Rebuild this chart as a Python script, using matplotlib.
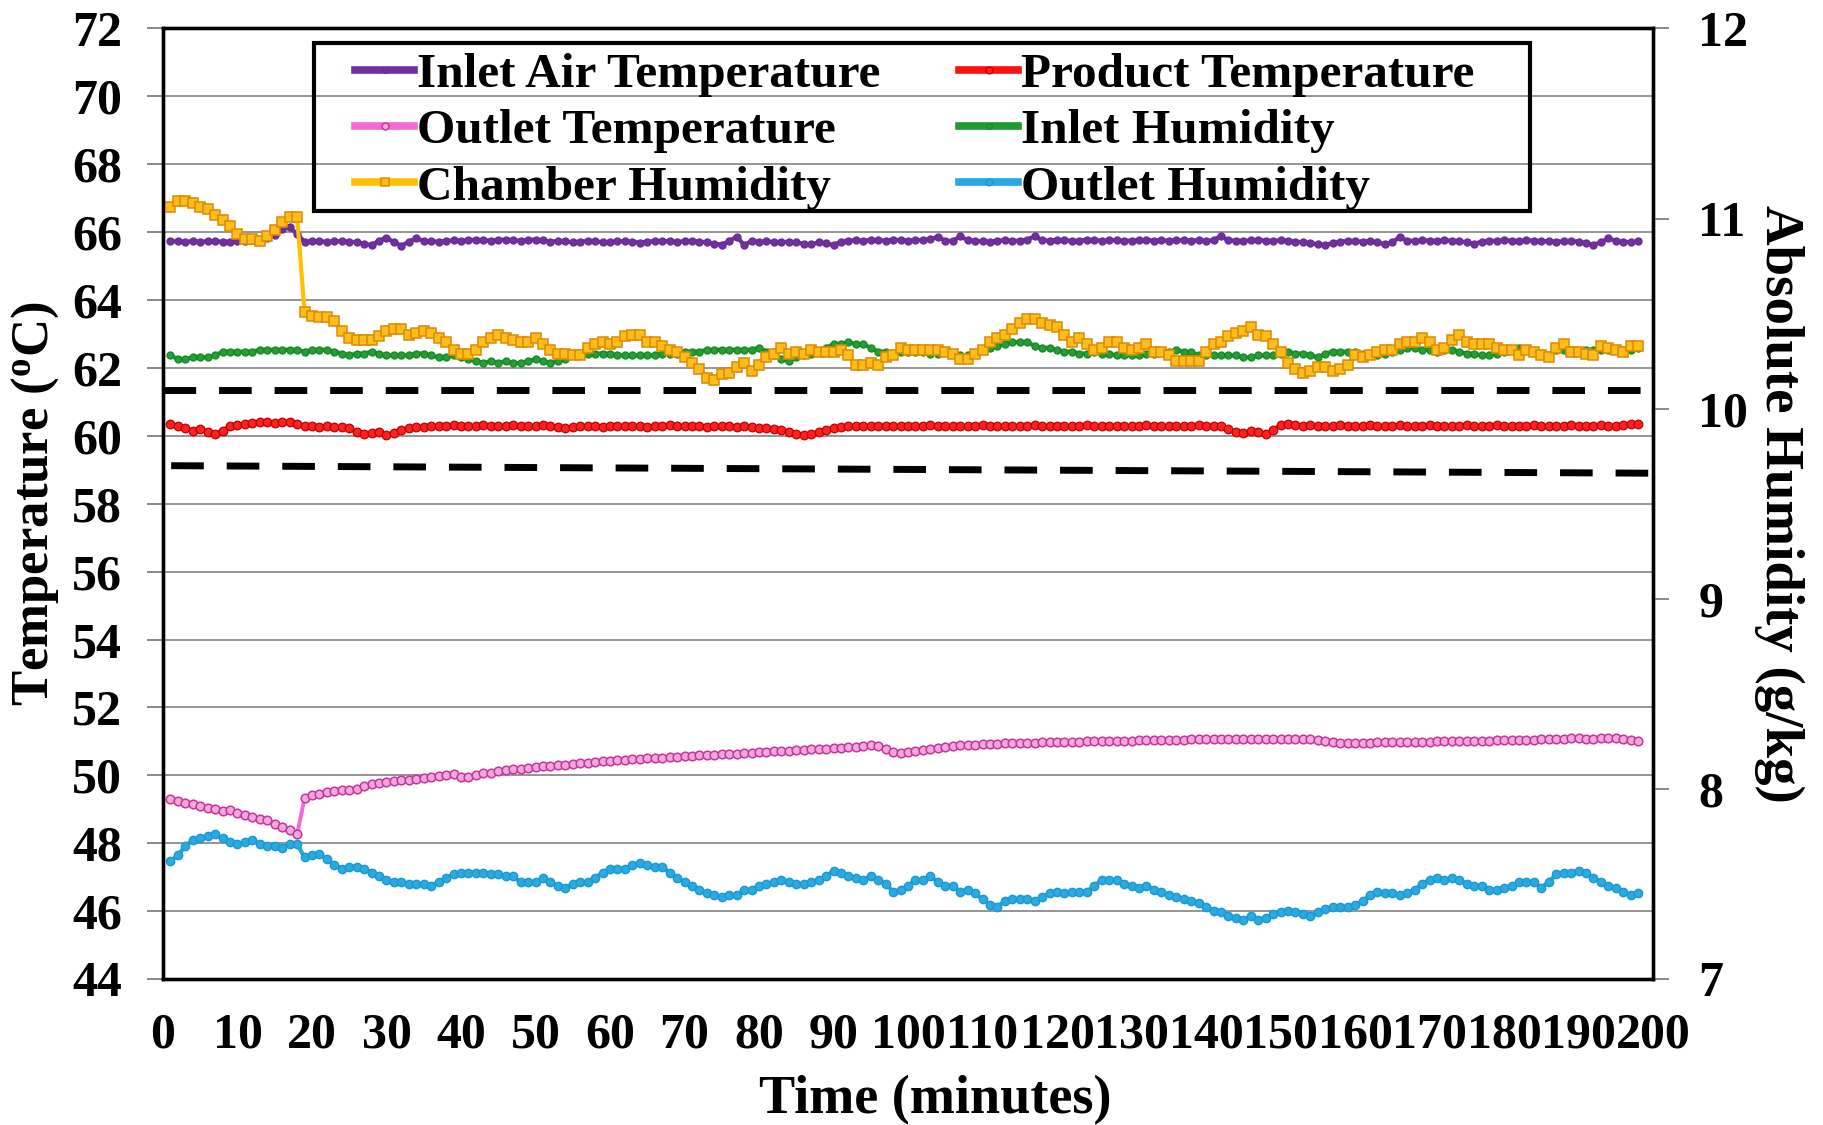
import numpy as np
import matplotlib
matplotlib.use("Agg")
import matplotlib.pyplot as plt
from matplotlib.lines import Line2D
from matplotlib.patches import Rectangle

plt.rcParams['font.family'] = ['Liberation Serif', 'DejaVu Serif']
plt.rcParams['font.weight'] = 'bold'
plt.rcParams['mathtext.fontset'] = 'custom'
plt.rcParams['mathtext.rm'] = 'Liberation Serif:bold'
plt.rcParams['mathtext.it'] = 'Liberation Serif:bold'
plt.rcParams['mathtext.bf'] = 'Liberation Serif:bold'

# ---- data: one reading per minute --------------------------------------
minutes = np.arange(1, 199)

inlet_air_temp = [
    65.73, 65.73, 65.72, 65.73, 65.72, 65.73, 65.73, 65.72, 65.72, 65.73,
    65.74, 65.76, 65.78, 65.83, 65.92, 66.08, 66.14, 65.95, 65.72, 65.74,
    65.73, 65.72, 65.73, 65.74, 65.72, 65.70, 65.66, 65.62, 65.75, 65.84,
    65.70, 65.60, 65.72, 65.82, 65.74, 65.73, 65.72, 65.74, 65.76, 65.74,
    65.76, 65.78, 65.76, 65.75, 65.77, 65.78, 65.76, 65.75, 65.77, 65.78,
    65.76, 65.72, 65.74, 65.73, 65.70, 65.72, 65.74, 65.73, 65.70, 65.71,
    65.73, 65.74, 65.72, 65.69, 65.72, 65.74, 65.73, 65.74, 65.72, 65.73,
    65.74, 65.72, 65.70, 65.66, 65.63, 65.74, 65.87, 65.62, 65.74, 65.72,
    65.73, 65.71, 65.70, 65.72, 65.70, 65.66, 65.64, 65.70, 65.67, 65.62,
    65.72, 65.75, 65.76, 65.74, 65.77, 65.76, 65.75, 65.78, 65.76, 65.75,
    65.77, 65.76, 65.80, 65.86, 65.75, 65.74, 65.88, 65.76, 65.74, 65.73,
    65.72, 65.75, 65.76, 65.74, 65.75, 65.78, 65.88, 65.76, 65.75, 65.77,
    65.76, 65.74, 65.75, 65.78, 65.76, 65.75, 65.76, 65.77, 65.74, 65.75,
    65.76, 65.77, 65.75, 65.76, 65.75, 65.77, 65.76, 65.75, 65.76, 65.74,
    65.77, 65.88, 65.76, 65.75, 65.74, 65.76, 65.77, 65.75, 65.74, 65.76,
    65.75, 65.72, 65.70, 65.68, 65.64, 65.62, 65.68, 65.72, 65.74, 65.73,
    65.72, 65.74, 65.70, 65.64, 65.70, 65.86, 65.75, 65.74, 65.76, 65.75,
    65.74, 65.76, 65.75, 65.73, 65.70, 65.66, 65.72, 65.75, 65.74, 65.76,
    65.75, 65.74, 65.76, 65.75, 65.73, 65.74, 65.72, 65.73, 65.74, 65.72,
    65.68, 65.63, 65.70, 65.82, 65.74, 65.72, 65.70, 65.73,
]

product_temp = [
    60.35, 60.30, 60.22, 60.15, 60.20, 60.12, 60.05, 60.15, 60.30, 60.32,
    60.35, 60.38, 60.40, 60.42, 60.38, 60.40, 60.42, 60.35, 60.30, 60.28,
    60.26, 60.28, 60.26, 60.25, 60.22, 60.10, 60.05, 60.08, 60.12, 60.02,
    60.08, 60.18, 60.22, 60.25, 60.26, 60.28, 60.30, 60.30, 60.32, 60.30,
    60.28, 60.30, 60.32, 60.30, 60.28, 60.30, 60.32, 60.30, 60.28, 60.30,
    60.32, 60.30, 60.26, 60.24, 60.26, 60.28, 60.30, 60.28, 60.26, 60.28,
    60.30, 60.28, 60.30, 60.28, 60.26, 60.28, 60.30, 60.32, 60.30, 60.28,
    60.30, 60.28, 60.26, 60.28, 60.30, 60.28, 60.26, 60.28, 60.26, 60.24,
    60.22, 60.20, 60.16, 60.10, 60.05, 60.02, 60.06, 60.12, 60.18, 60.22,
    60.26, 60.28, 60.30, 60.30, 60.28, 60.30, 60.30, 60.28, 60.30, 60.30,
    60.28, 60.30, 60.32, 60.30, 60.28, 60.30, 60.30, 60.28, 60.30, 60.32,
    60.30, 60.28, 60.30, 60.30, 60.28, 60.30, 60.32, 60.30, 60.28, 60.30,
    60.30, 60.28, 60.30, 60.32, 60.30, 60.28, 60.30, 60.30, 60.28, 60.30,
    60.30, 60.32, 60.30, 60.28, 60.30, 60.30, 60.28, 60.30, 60.32, 60.30,
    60.30, 60.28, 60.20, 60.12, 60.08, 60.15, 60.10, 60.05, 60.18, 60.32,
    60.34, 60.32, 60.30, 60.32, 60.30, 60.28, 60.30, 60.32, 60.30, 60.28,
    60.30, 60.32, 60.30, 60.28, 60.30, 60.32, 60.30, 60.28, 60.30, 60.32,
    60.30, 60.28, 60.30, 60.30, 60.32, 60.30, 60.28, 60.30, 60.32, 60.30,
    60.30, 60.28, 60.30, 60.32, 60.30, 60.28, 60.30, 60.30, 60.32, 60.30,
    60.28, 60.30, 60.32, 60.30, 60.30, 60.32, 60.34, 60.36,
]

outlet_temp = [
    49.29, 49.25, 49.19, 49.14, 49.10, 49.05, 49.00, 48.95, 48.97, 48.90,
    48.84, 48.78, 48.72, 48.67, 48.57, 48.47, 48.39, 48.26, 49.32, 49.41,
    49.46, 49.51, 49.54, 49.58, 49.58, 49.61, 49.68, 49.74, 49.78, 49.80,
    49.83, 49.85, 49.87, 49.89, 49.92, 49.95, 49.98, 50.02, 50.05, 49.95,
    49.96, 50.02, 50.06, 50.08, 50.12, 50.16, 50.18, 50.20, 50.22, 50.24,
    50.26, 50.28, 50.30, 50.31, 50.33, 50.35, 50.37, 50.39, 50.41, 50.43,
    50.44, 50.46, 50.48, 50.49, 50.50, 50.51, 50.52, 50.54, 50.55, 50.56,
    50.58, 50.59, 50.60, 50.61, 50.62, 50.63, 50.64, 50.65, 50.66, 50.68,
    50.70, 50.71, 50.72, 50.73, 50.74, 50.75, 50.76, 50.77, 50.78, 50.79,
    50.80, 50.82, 50.84, 50.86, 50.89, 50.87, 50.78, 50.70, 50.66, 50.68,
    50.72, 50.74, 50.77, 50.79, 50.82, 50.85, 50.88, 50.90, 50.90, 50.91,
    50.92, 50.93, 50.94, 50.95, 50.95, 50.96, 50.96, 50.97, 50.97, 50.98,
    50.98, 50.99, 50.99, 51.00, 51.00, 51.01, 51.01, 51.02, 51.02, 51.02,
    51.03, 51.03, 51.03, 51.04, 51.04, 51.05, 51.05, 51.06, 51.06, 51.07,
    51.07, 51.07, 51.08, 51.08, 51.08, 51.08, 51.08, 51.07, 51.07, 51.07,
    51.07, 51.06, 51.06, 51.06, 51.03, 51.00, 50.97, 50.95, 50.95, 50.95,
    50.96, 50.96, 50.97, 50.97, 50.98, 50.98, 50.98, 50.99, 50.99, 50.99,
    51.00, 51.00, 51.00, 51.01, 51.01, 51.01, 51.02, 51.02, 51.03, 51.03,
    51.04, 51.04, 51.05, 51.05, 51.06, 51.06, 51.07, 51.08, 51.09, 51.09,
    51.08, 51.08, 51.09, 51.10, 51.09, 51.07, 51.05, 51.01,
]

inlet_humidity = [
    10.28, 10.26, 10.26, 10.27, 10.27, 10.27, 10.28, 10.30, 10.30, 10.30,
    10.30, 10.30, 10.31, 10.31, 10.31, 10.31, 10.31, 10.31, 10.30, 10.31,
    10.31, 10.31, 10.30, 10.29, 10.28, 10.29, 10.29, 10.30, 10.29, 10.28,
    10.28, 10.28, 10.28, 10.29, 10.29, 10.28, 10.27, 10.27, 10.28, 10.27,
    10.26, 10.25, 10.24, 10.25, 10.24, 10.25, 10.24, 10.24, 10.25, 10.26,
    10.25, 10.24, 10.25, 10.26, 10.28, 10.29, 10.29, 10.29, 10.29, 10.29,
    10.28, 10.28, 10.28, 10.28, 10.28, 10.28, 10.29, 10.29, 10.29, 10.30,
    10.30, 10.30, 10.31, 10.31, 10.31, 10.31, 10.31, 10.31, 10.31, 10.32,
    10.30, 10.28, 10.26, 10.25, 10.27, 10.28, 10.29, 10.30, 10.32, 10.34,
    10.34, 10.35, 10.34, 10.34, 10.32, 10.30, 10.30, 10.29, 10.30, 10.30,
    10.30, 10.30, 10.29, 10.29, 10.30, 10.29, 10.28, 10.28, 10.29, 10.31,
    10.32, 10.33, 10.34, 10.35, 10.35, 10.35, 10.33, 10.32, 10.32, 10.31,
    10.30, 10.30, 10.29, 10.29, 10.30, 10.29, 10.29, 10.28, 10.28, 10.28,
    10.28, 10.29, 10.29, 10.30, 10.30, 10.31, 10.30, 10.30, 10.28, 10.28,
    10.28, 10.28, 10.28, 10.28, 10.27, 10.27, 10.28, 10.28, 10.28, 10.29,
    10.30, 10.29, 10.29, 10.28, 10.27, 10.29, 10.30, 10.30, 10.30, 10.30,
    10.29, 10.28, 10.28, 10.29, 10.30, 10.31, 10.32, 10.32, 10.31, 10.31,
    10.30, 10.31, 10.31, 10.30, 10.29, 10.29, 10.28, 10.28, 10.29, 10.30,
    10.31, 10.32, 10.31, 10.30, 10.29, 10.28, 10.31, 10.31, 10.31, 10.30,
    10.31, 10.31, 10.31, 10.31, 10.31, 10.31, 10.31, 10.32,
]

chamber_humidity = [
    11.06, 11.09, 11.09, 11.08, 11.06, 11.05, 11.02, 10.99, 10.96, 10.92,
    10.89, 10.89, 10.88, 10.91, 10.94, 10.98, 11.01, 11.01, 10.51, 10.49,
    10.48, 10.48, 10.46, 10.41, 10.37, 10.36, 10.36, 10.36, 10.38, 10.41,
    10.42, 10.42, 10.39, 10.40, 10.41, 10.40, 10.37, 10.35, 10.31, 10.29,
    10.29, 10.31, 10.35, 10.37, 10.39, 10.37, 10.36, 10.35, 10.35, 10.37,
    10.34, 10.31, 10.29, 10.29, 10.28, 10.28, 10.32, 10.34, 10.35, 10.34,
    10.35, 10.38, 10.39, 10.39, 10.35, 10.35, 10.33, 10.31, 10.30, 10.27,
    10.24, 10.21, 10.16, 10.15, 10.18, 10.19, 10.22, 10.24, 10.20, 10.23,
    10.27, 10.29, 10.32, 10.29, 10.30, 10.29, 10.31, 10.30, 10.30, 10.30,
    10.31, 10.28, 10.23, 10.23, 10.24, 10.23, 10.27, 10.28, 10.32, 10.31,
    10.31, 10.31, 10.31, 10.31, 10.30, 10.29, 10.26, 10.26, 10.29, 10.31,
    10.35, 10.37, 10.39, 10.42, 10.45, 10.47, 10.47, 10.45, 10.44, 10.43,
    10.39, 10.35, 10.37, 10.34, 10.31, 10.32, 10.35, 10.35, 10.32, 10.31,
    10.32, 10.34, 10.30, 10.30, 10.28, 10.25, 10.25, 10.25, 10.25, 10.30,
    10.34, 10.35, 10.38, 10.40, 10.41, 10.43, 10.39, 10.38, 10.34, 10.30,
    10.24, 10.21, 10.19, 10.20, 10.22, 10.22, 10.20, 10.21, 10.23, 10.28,
    10.27, 10.28, 10.30, 10.31, 10.31, 10.34, 10.35, 10.35, 10.37, 10.35,
    10.31, 10.32, 10.36, 10.39, 10.35, 10.34, 10.34, 10.34, 10.32, 10.31,
    10.31, 10.28, 10.31, 10.30, 10.28, 10.27, 10.32, 10.34, 10.30, 10.30,
    10.29, 10.28, 10.33, 10.32, 10.31, 10.30, 10.33, 10.33,
]

outlet_humidity = [
    7.62, 7.65, 7.70, 7.73, 7.74, 7.75, 7.76, 7.74, 7.72, 7.71,
    7.72, 7.73, 7.71, 7.70, 7.70, 7.69, 7.71, 7.71, 7.64, 7.65,
    7.66, 7.63, 7.60, 7.58, 7.59, 7.59, 7.58, 7.56, 7.54, 7.52,
    7.51, 7.51, 7.50, 7.50, 7.50, 7.49, 7.51, 7.53, 7.55, 7.56,
    7.56, 7.56, 7.56, 7.55, 7.55, 7.54, 7.54, 7.51, 7.51, 7.51,
    7.53, 7.51, 7.49, 7.48, 7.50, 7.51, 7.51, 7.53, 7.56, 7.58,
    7.58, 7.58, 7.60, 7.61, 7.60, 7.59, 7.59, 7.56, 7.53, 7.51,
    7.49, 7.47, 7.45, 7.44, 7.43, 7.44, 7.44, 7.47, 7.47, 7.49,
    7.50, 7.51, 7.52, 7.51, 7.50, 7.50, 7.51, 7.52, 7.54, 7.57,
    7.56, 7.54, 7.53, 7.52, 7.54, 7.52, 7.50, 7.46, 7.47, 7.49,
    7.52, 7.52, 7.54, 7.51, 7.49, 7.49, 7.46, 7.47, 7.45, 7.42,
    7.39, 7.38, 7.41, 7.42, 7.42, 7.42, 7.41, 7.43, 7.45, 7.46,
    7.45, 7.46, 7.46, 7.46, 7.49, 7.52, 7.52, 7.52, 7.50, 7.49,
    7.48, 7.49, 7.47, 7.46, 7.44, 7.43, 7.42, 7.41, 7.40, 7.38,
    7.36, 7.35, 7.33, 7.32, 7.31, 7.33, 7.31, 7.32, 7.34, 7.35,
    7.36, 7.35, 7.34, 7.33, 7.35, 7.37, 7.38, 7.38, 7.38, 7.39,
    7.41, 7.44, 7.46, 7.45, 7.45, 7.44, 7.45, 7.47, 7.50, 7.52,
    7.53, 7.52, 7.53, 7.52, 7.50, 7.49, 7.49, 7.47, 7.47, 7.48,
    7.49, 7.51, 7.51, 7.51, 7.48, 7.51, 7.55, 7.56, 7.56, 7.57,
    7.56, 7.53, 7.51, 7.49, 7.48, 7.46, 7.44, 7.45,
]

# humidity reference bands (g/kg) at start / end of run
upper_band_x = [0, 201.3]
upper_band_g = [10.10, 10.10]
lower_band_x = [1.1, 202.3]
lower_band_g = [9.70, 9.66]

x_ticks = list(range(0, 201, 10))
temp_ticks = list(range(44, 73, 2))
hum_ticks = [7, 8, 9, 10, 11, 12]

# ---- styles -----------------------------------------------------------
styles = {
    'Inlet Air Temperature': dict(color='#7030a0', marker='o', ms=5.0,
                                  mfc='#7030a0', mec='#6a2c98', lw=3.0),
    'Product Temperature': dict(color='#ff1010', marker='o', ms=6.2,
                                mfc='#ff2020', mec='#c00000', mew=0.9, lw=2.8),
    'Outlet Temperature': dict(color='#f26ad6', marker='o', ms=6.2,
                               mfc='#f7a6de', mec='#c2379a', mew=1.1, lw=2.8),
    'Inlet Humidity': dict(color='#1f9b2f', marker='o', ms=5.0,
                           mfc='#22a033', mec='#178a27', lw=3.0),
    'Chamber Humidity': dict(color='#ffc000', marker='s', ms=7.2,
                             mfc='#ffbd1c', mec='#dd8a00', mew=1.1, lw=3.0),
    'Outlet Humidity': dict(color='#27a9e1', marker='o', ms=6.0,
                            mfc='#2aaae2', mec='#1b98d0', lw=3.0),
}

fig = plt.figure(figsize=(18.23, 11.25), dpi=100)
ax = fig.add_axes([0.0894, 0.1298, 0.8174, 0.8449])
ax2 = ax.twinx()

ax.plot(minutes, inlet_air_temp, **styles['Inlet Air Temperature'])
ax.plot(minutes, product_temp, **styles['Product Temperature'])
ax.plot(minutes, outlet_temp, **styles['Outlet Temperature'])
ax2.plot(minutes, inlet_humidity, **styles['Inlet Humidity'])
ax2.plot(minutes, chamber_humidity, **styles['Chamber Humidity'])
ax2.plot(minutes, outlet_humidity, **styles['Outlet Humidity'])

dash_kw = dict(color='black', lw=5.0, dashes=(4.7, 3.3),
               solid_capstyle='butt', dash_capstyle='butt', clip_on=False)
ax2.plot(upper_band_x, upper_band_g, **dash_kw)
ax2.plot(lower_band_x, lower_band_g, **dash_kw)

# ---- axes -------------------------------------------------------------
ax.set_xlim(0, 200)
ax.set_ylim(44, 72)
ax2.set_ylim(7, 12)
ax.set_xticks(x_ticks)
ax.set_yticks(temp_ticks)
ax2.set_yticks(hum_ticks)

ax.yaxis.grid(True, color='#8c8c8c', lw=1.3)
ax.set_axisbelow(True)

for a in (ax, ax2):
    for s in a.spines.values():
        s.set_linewidth(2.4)
        s.set_color('black')

ax.tick_params(axis='x', length=0, pad=24, labelsize=36)
ax.tick_params(axis='y', direction='out', length=11.5, width=1.3,
               color='#808080', pad=18, labelsize=36)
ax2.tick_params(axis='y', direction='out', length=11.5, width=1.3,
                color='#808080', pad=21, labelsize=36)

ax.set_xlabel('Time (minutes)', fontsize=39, fontweight='bold', labelpad=12)
ax.xaxis.label.set_x(0.518)
ax.set_ylabel(r'Temperature ($^{\mathrm{o}}$C)', fontsize=38,
              fontweight='bold', labelpad=8)
ax2.set_ylabel('Absolute Humidity (g/kg)', fontsize=39.5, fontweight='bold',
               rotation=270, va='bottom', labelpad=4)

# ---- legend -----------------------------------------------------------
order = ['Inlet Air Temperature', 'Outlet Temperature', 'Chamber Humidity',
         'Product Temperature', 'Inlet Humidity', 'Outlet Humidity']
handles = []
for name in order:
    st = dict(styles[name])
    st['lw'] = 5.5
    st['ms'] = st['ms'] * 0.8
    handles.append(Line2D([], [], **st))
leg = ax2.legend(handles, order, loc='upper left',
                 bbox_to_anchor=(0.1947, 0.9535),
                 bbox_transform=fig.transFigure, ncol=2, frameon=False,
                 fontsize=35.5, handlelength=1.2, handletextpad=0.06,
                 columnspacing=1.6, labelspacing=0.24, borderpad=0,
                 borderaxespad=0, numpoints=1)
fig.patches.append(Rectangle((0.1722, 0.8124), 0.667, 0.1493,
                             transform=fig.transFigure, fill=False,
                             edgecolor='black', lw=3.0, zorder=10))

fig.savefig('out.png', dpi=100)
